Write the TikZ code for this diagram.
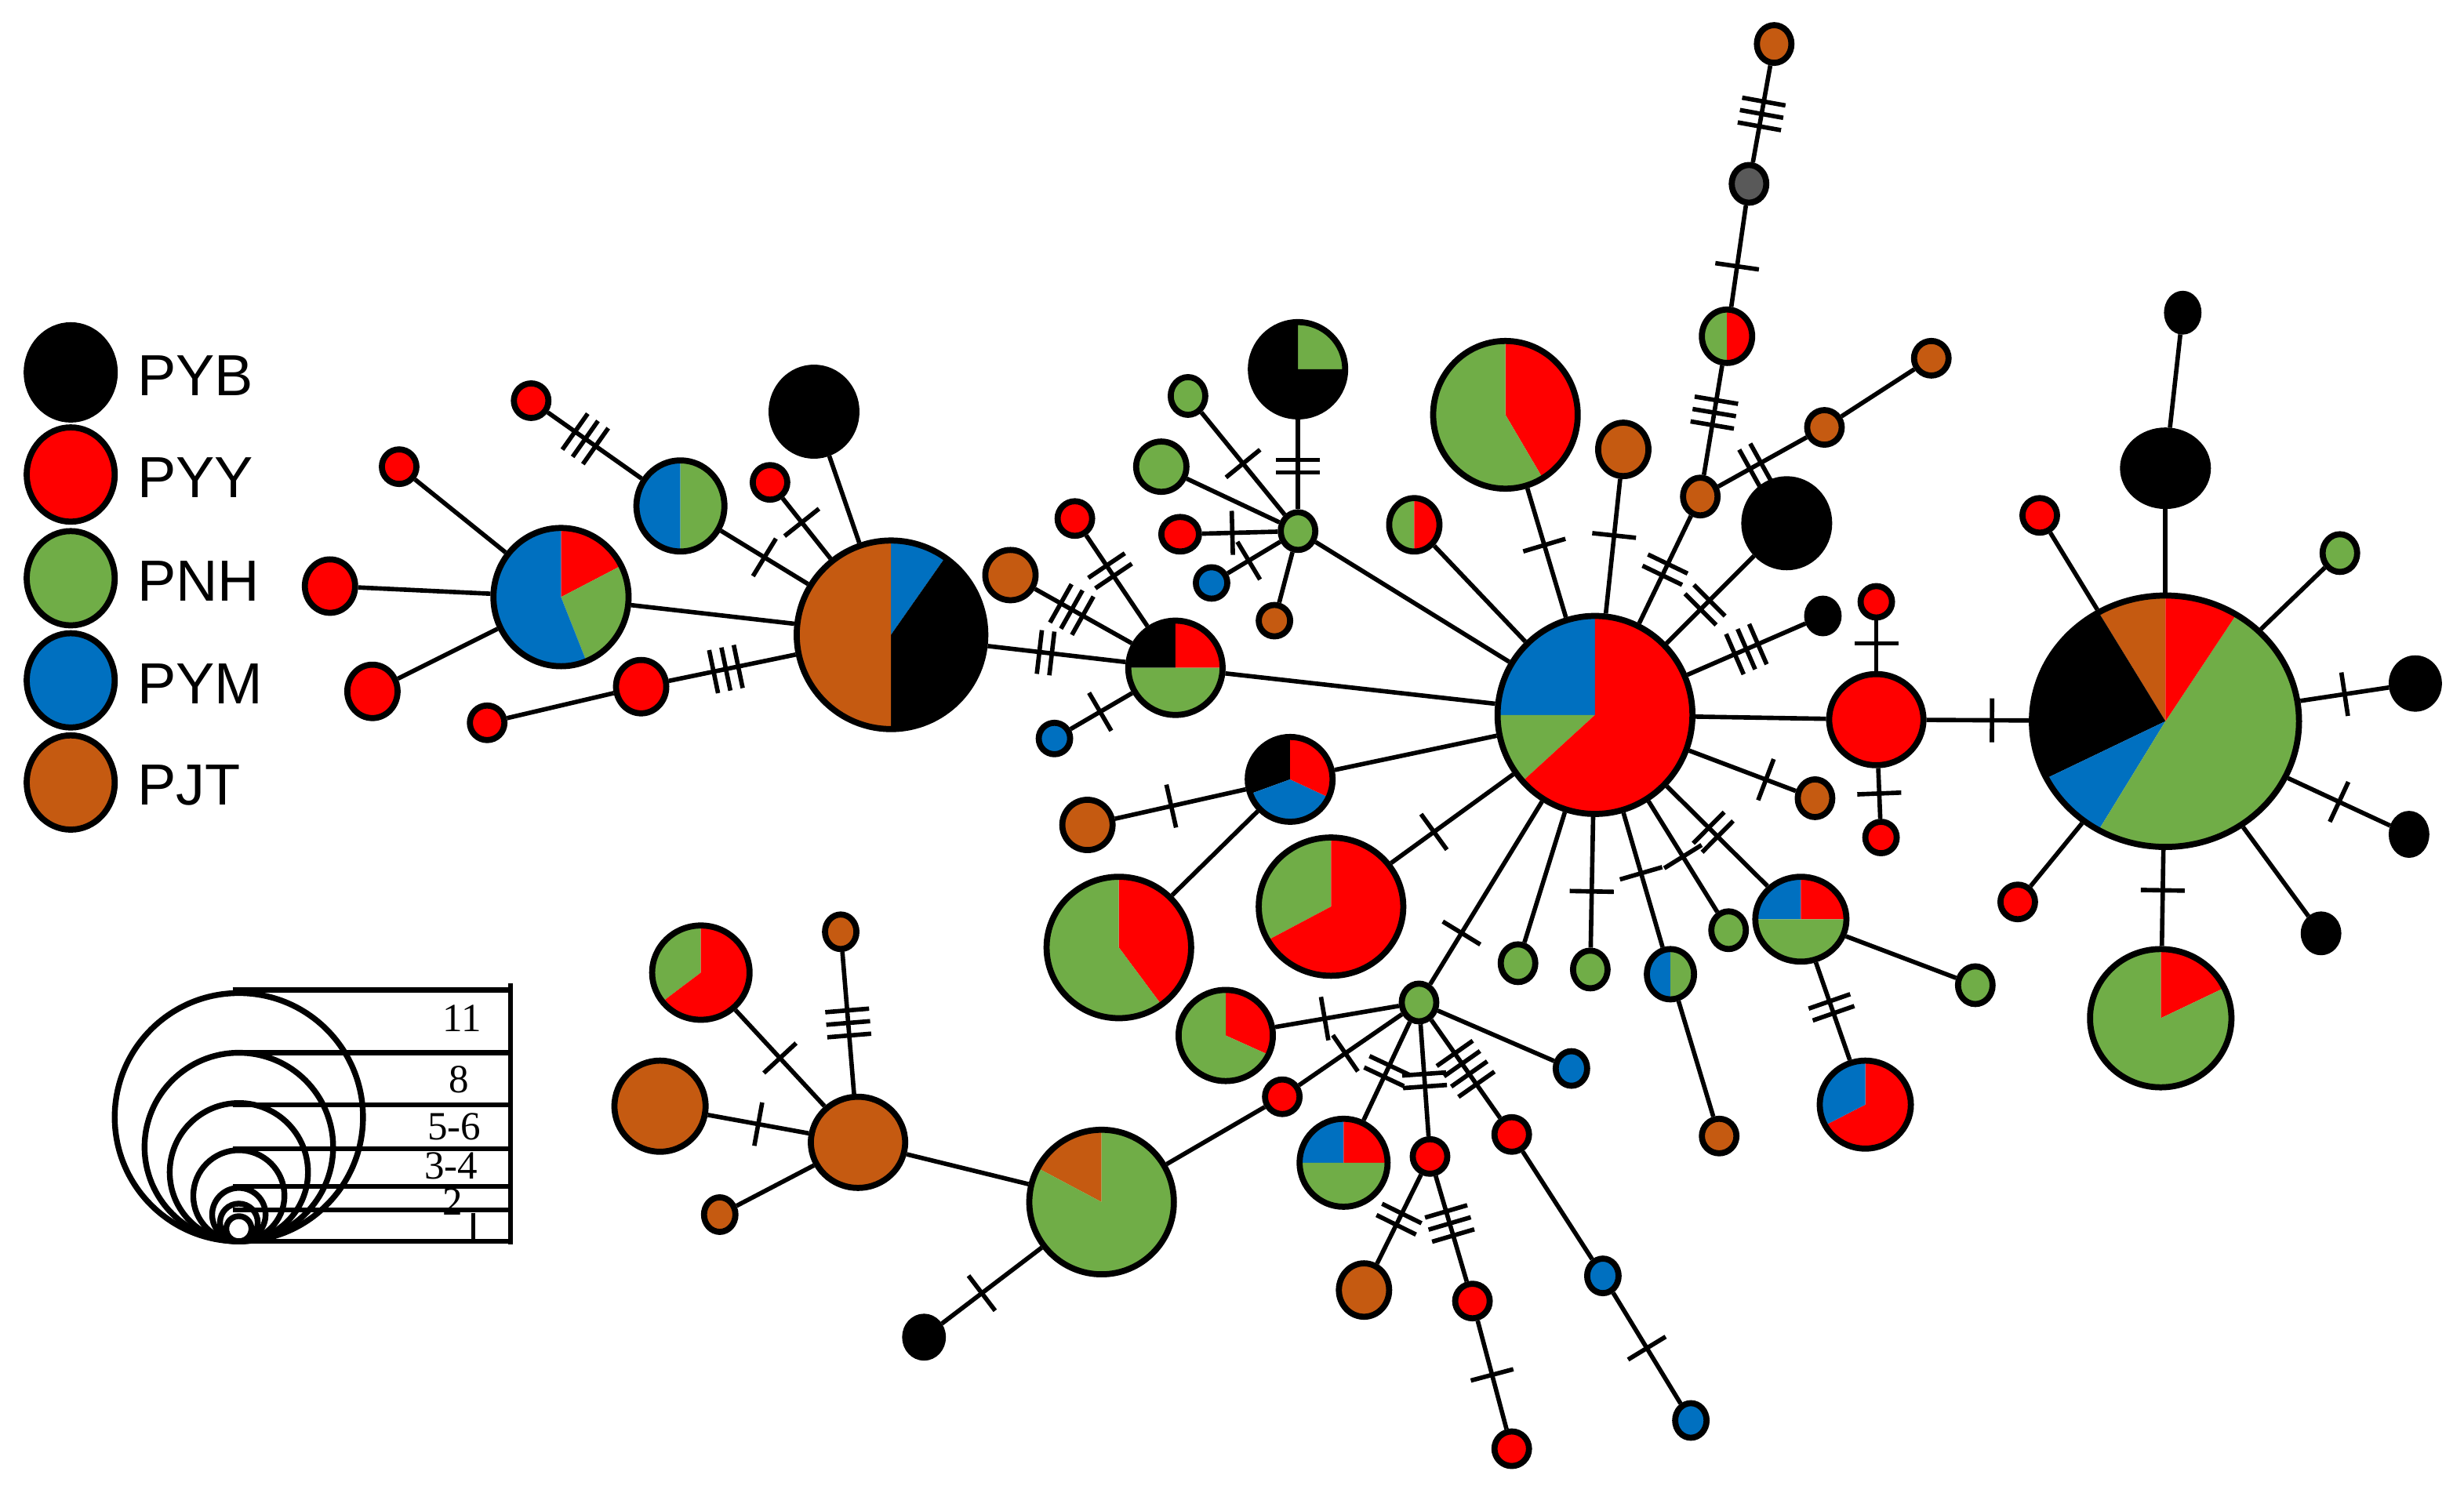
\documentclass[tikz,border=0pt]{standalone}
\usepackage{fontspec}
\setmainfont{Liberation Serif}
\newfontfamily\legfont{Liberation Sans}
\usetikzlibrary{shapes.geometric,decorations.markings}
\definecolor{cK}{HTML}{000000}
\definecolor{cR}{HTML}{FF0000}
\definecolor{cG}{HTML}{70AD47}
\definecolor{cU}{HTML}{0070C0}
\definecolor{cJ}{HTML}{C55A11}
\definecolor{cY}{HTML}{595959}
\tikzset{
  hapnode/.style={draw=black, line width=2.2pt, ellipse, inner sep=0pt, outer sep=1.1pt},
  lnk/.style={line width=1.6pt},
  mut/.style 2 args={postaction={decorate,decoration={markings,
     mark=at position #1 with {\foreach \i in {1,...,#2}{\draw[line width=1.6pt] ({(\i-(#2+1)/2)*8},-14) -- ({(\i-(#2+1)/2)*8},14);}}}}},
  legtext/.style={anchor=west, inner sep=0pt, font=\legfont\fontsize{21}{21}\selectfont},
  sclab/.style={inner sep=0pt, font=\fontsize{14.5}{14.5}\selectfont},
}
% #1 name, #2 x, #3 y, #4 rx, #5 ry, #6 slices start/end/colour (visual angles, ccw)
\newcommand\hap[6]{%
  \foreach \sa/\sb/\sc in {#6}{%
    \fill[\sc] (#2,#3) -- ++({-(\sa)}:#4 and #5) arc[start angle={-(\sa)}, end angle={-(\sb)}, x radius=#4, y radius=#5] -- cycle;}%
  \node[hapnode, minimum width={2*#4*0.02cm}, minimum height={2*#5*0.02cm}] (#1) at (#2,#3) {};}
\begin{document}
\begin{tikzpicture}[x=0.02cm,y=0.02cm,yscale=-1]
\fill[white] (0,0) rectangle (1568,950);
\useasboundingbox (0,0) rectangle (1568,950);
% ---------- legend ----------
\hap{lgK}{45}{237}{28}{30}{0/360/cK}
\hap{lgR}{45}{302}{28}{30}{0/360/cR}
\hap{lgG}{45}{368}{28}{30}{0/360/cG}
\hap{lgU}{45}{433}{28}{30}{0/360/cU}
\hap{lgJ}{45}{498}{28}{30}{0/360/cJ}
\node[legtext] (tK) at (87,239) {PYB};
\node[legtext] (tR) at (87,304) {PYY};
\node[legtext] (tG) at (87,370) {PNH};
\node[legtext] (tU) at (87,435) {PYM};
\node[legtext] (tJ) at (87,500) {PJT};
% ---------- size scale ----------
\node[sclab] (s11) at (294,648) {11};
\node[sclab] (s8) at (292,687) {8};
\node[sclab] (s56) at (289,717) {5-6};
\node[sclab] (s34) at (287,742) {3-4};
\node[sclab] (s2) at (288,765) {2};
\foreach \yy in {630,670,703,731,755,770,790}{\draw[line width=1.8pt] (148,\yy) -- (325,\yy);}
\draw[line width=1.8pt] (325,626) -- (325,792);
\draw[line width=1.5pt] (301,772) -- (301,790);
\foreach \rr in {79,60,44,29,17,12,8}{\draw[line width=2.1pt] (152,790-\rr) circle (\rr);}
% ---------- haplotypes ----------
\hap{A1}{357}{380}{43}{44}{27/90/cR, -68/27/cG, 90/292/cU}
\hap{r1}{210}{373}{16}{17}{0/360/cR}
\hap{r2}{254}{297}{11}{11}{0/360/cR}
\hap{r3}{237}{440}{16}{17}{0/360/cR}
\hap{r4}{310}{460}{11}{11}{0/360/cR}
\hap{r5}{408}{437}{16}{17}{0/360/cR}
\hap{B1}{567}{404}{60}{60}{55/90/cU, -90/55/cK, 90/270/cJ}
\hap{BG}{433}{322}{28}{29}{90/270/cU, -90/90/cG}
\hap{r6}{490}{307}{11}{11}{0/360/cR}
\hap{r7}{338}{255}{11}{11}{0/360/cR}
\hap{k1}{518}{262}{27}{28}{0/360/cK}
\hap{BRG}{748}{425}{30}{30}{90/180/cK, 0/90/cR, 180/360/cG}
\hap{o1}{643}{366}{16}{16}{0/360/cJ}
\hap{r8}{684}{330}{11}{11}{0/360/cR}
\hap{u1}{671}{470}{10}{10}{0/360/cU}
\hap{G1}{826}{338}{11}{12}{0/360/cG}
\hap{KG}{826}{235}{30}{30}{0/90/cG, 90/360/cK}
\hap{g1}{756}{252}{11}{12}{0/360/cG}
\hap{g2}{739}{297}{16}{16}{0/360/cG}
\hap{r9}{751}{340}{12}{11}{0/360/cR}
\hap{u2}{771}{371}{10}{10}{0/360/cU}
\hap{o2}{811}{395}{10}{10}{0/360/cJ}
\hap{H}{1015}{455}{62}{63}{90/180/cU, 180/222/cG, -138/90/cR}
\hap{GR1}{900}{334}{16}{17}{90/270/cG, -90/90/cR}
\hap{GR2}{958}{264}{46}{47}{-59/90/cR, 90/301/cG}
\hap{o3}{1033}{286}{16}{17}{0/360/cJ}
\hap{o4}{1082}{316}{11}{12}{0/360/cJ}
\hap{GR3}{1099}{214}{16}{17}{90/270/cG, -90/90/cR}
\hap{K1}{1113}{117}{11}{12}{0/360/cY}
\hap{o5}{1129}{28}{11}{12}{0/360/cJ}
\hap{o6}{1161}{272}{11}{11}{0/360/cJ}
\hap{o7}{1229}{228}{11}{11}{0/360/cJ}
\hap{k2}{1137}{333}{27}{28}{0/360/cK}
\hap{k3}{1160}{392}{10}{11}{0/360/cK}
\hap{r10}{1194}{458}{30}{29}{0/360/cR}
\hap{r11}{1194}{383}{10}{10}{0/360/cR}
\hap{r12}{1197}{533}{10}{10}{0/360/cR}
\hap{o8}{1155}{508}{11}{12}{0/360/cJ}
\hap{RGB1}{1146}{585}{29}{27}{90/180/cU, 0/90/cR, 180/360/cG}
\hap{g3}{1257}{627}{11}{12}{0/360/cG}
\hap{UR1}{1187}{703}{29}{28}{-152/90/cR, 90/208/cU}
\hap{g4}{1100}{592}{11}{12}{0/360/cG}
\hap{UG1}{1063}{620}{15}{16}{90/270/cU, -90/90/cG}
\hap{o9}{1094}{723}{11}{11}{0/360/cJ}
\hap{g5}{1012}{617}{11}{12}{0/360/cG}
\hap{g6}{966}{613}{11}{12}{0/360/cG}
\hap{G2}{903}{638}{11}{12}{0/360/cG}
\hap{GR4}{847}{577}{46}{44}{90/209/cG, 209/450/cR}
\hap{KRU}{821}{496}{27}{27}{90/200/cK, 200/335/cU, -25/90/cR}
\hap{o10}{692}{525}{16}{16}{0/360/cJ}
\hap{GR5}{712}{603}{46}{45}{-54/90/cR, 90/306/cG}
\hap{GR6}{780}{659}{30}{29}{-25/90/cR, 90/335/cG}
\hap{r13}{816}{698}{11}{11}{0/360/cR}
\hap{GJ}{701}{765}{46}{46}{90/152/cJ, 152/450/cG}
\hap{k4}{588}{851}{12}{13}{0/360/cK}
\hap{J2}{546}{727}{30}{29}{0/360/cJ}
\hap{o11}{420}{704}{29}{29}{0/360/cJ}
\hap{GR7}{446}{619}{31}{30}{90/218/cG, 218/450/cR}
\hap{o12}{535}{593}{10}{11}{0/360/cJ}
\hap{o13}{458}{773}{10}{11}{0/360/cJ}
\hap{RGB2}{855}{740}{28}{28}{90/180/cU, 0/90/cR, 180/360/cG}
\hap{r14}{910}{736}{11}{11}{0/360/cR}
\hap{o14}{868}{821}{16}{17}{0/360/cJ}
\hap{r15}{937}{828}{11}{11}{0/360/cR}
\hap{r16}{962}{922}{11}{11}{0/360/cR}
\hap{r17}{962}{722}{11}{11}{0/360/cR}
\hap{u3}{1020}{812}{10}{11}{0/360/cU}
\hap{u4}{1076}{904}{10}{11}{0/360/cU}
\hap{u5}{1000}{680}{10}{11}{0/360/cU}
\hap{R}{1378}{459}{85}{80}{90/120/cJ, 120/207/cK, 207/240/cU, 240/418/cG, 58/90/cR}
\hap{k5}{1378}{298}{27}{24}{0/360/cK}
\hap{k6}{1389}{199}{10}{12}{0/360/cK}
\hap{r18}{1298}{328}{11}{11}{0/360/cR}
\hap{g7}{1489}{352}{11}{12}{0/360/cG}
\hap{k7}{1537}{435}{15}{16}{0/360/cK}
\hap{k8}{1533}{531}{11}{13}{0/360/cK}
\hap{k9}{1477}{594}{11}{12}{0/360/cK}
\hap{r19}{1284}{574}{11}{11}{0/360/cR}
\hap{GR8}{1375}{648}{45}{44}{26/90/cR, 90/386/cG}
% ---------- connections ----------
\draw[lnk] (A1)--(r1);
\draw[lnk] (A1)--(r2);
\draw[lnk] (A1)--(r3);
\draw[lnk] (r4)--(r5);
\draw[lnk,mut={0.45}{3}] (r5)--(B1);
\draw[lnk] (A1)--(B1);
\draw[lnk,mut={0.6}{3}] (BG)--(r7);
\draw[lnk,mut={0.5}{1}] (BG)--(B1);
\draw[lnk,mut={0.4}{1}] (r6)--(B1);
\draw[lnk] (k1)--(B1);
\draw[lnk,mut={0.42}{2}] (B1)--(BRG);
\draw[lnk,mut={0.38}{3}] (o1)--(BRG);
\draw[lnk,mut={0.39}{2}] (r8)--(BRG);
\draw[lnk,mut={0.48}{1}] (u1)--(BRG);
\draw[lnk] (BRG)--(H);
\draw[lnk,mut={0.48}{2}] (G1)--(KG);
\draw[lnk,mut={0.5}{1}] (G1)--(g1);
\draw[lnk] (G1)--(g2);
\draw[lnk,mut={0.6}{1}] (G1)--(r9);
\draw[lnk,mut={0.6}{1}] (G1)--(u2);
\draw[lnk] (G1)--(o2);
\draw[lnk] (G1)--(H);
\draw[lnk] (H)--(GR1);
\draw[lnk,mut={0.56}{1}] (H)--(GR2);
\draw[lnk,mut={0.58}{1}] (H)--(o3);
\draw[lnk,mut={0.5}{2}] (H)--(o4);
\draw[lnk,mut={0.57}{3}] (o4)--(GR3);
\draw[lnk,mut={0.42}{2}] (o4)--(o6);
\draw[lnk] (o6)--(o7);
\draw[lnk,mut={0.4}{1}] (GR3)--(K1);
\draw[lnk,mut={0.5}{3}] (K1)--(o5);
\draw[lnk,mut={0.44}{2}] (H)--(k2);
\draw[lnk,mut={0.5}{3}] (H)--(k3);
\draw[lnk] (H)--(r10);
\draw[lnk,mut={0.55}{1}] (r10)--(r11);
\draw[lnk,mut={0.5}{1}] (r10)--(r12);
\draw[lnk,mut={0.64}{1}] (r10)--(R);
\draw[lnk,mut={0.72}{1}] (H)--(o8);
\draw[lnk,mut={0.46}{2}] (H)--(RGB1);
\draw[lnk] (RGB1)--(g3);
\draw[lnk,mut={0.46}{2}] (RGB1)--(UR1);
\draw[lnk,mut={0.5}{1}] (H)--(g4);
\draw[lnk,mut={0.45}{1}] (H)--(UG1);
\draw[lnk] (UG1)--(o9);
\draw[lnk,mut={0.57}{1}] (H)--(g5);
\draw[lnk] (H)--(g6);
\draw[lnk,mut={0.72}{1}] (H)--(G2);
\draw[lnk,mut={0.65}{1}] (H)--(GR4);
\draw[lnk] (H)--(KRU);
\draw[lnk,mut={0.57}{1}] (KRU)--(o10);
\draw[lnk] (KRU)--(GR5);
\draw[lnk,mut={0.6}{1}] (G2)--(GR6);
\draw[lnk,mut={0.55}{1}] (G2)--(r13);
\draw[lnk] (r13)--(GJ);
\draw[lnk,mut={0.6}{1}] (GJ)--(k4);
\draw[lnk] (GJ)--(J2);
\draw[lnk,mut={0.5}{1}] (J2)--(o11);
\draw[lnk,mut={0.5}{1}] (J2)--(GR7);
\draw[lnk,mut={0.5}{3}] (J2)--(o12);
\draw[lnk] (J2)--(o13);
\draw[lnk,mut={0.5}{2}] (G2)--(RGB2);
\draw[lnk,mut={0.5}{2}] (G2)--(r14);
\draw[lnk,mut={0.5}{2}] (r14)--(o14);
\draw[lnk,mut={0.45}{3}] (r14)--(r15);
\draw[lnk,mut={0.5}{1}] (r15)--(r16);
\draw[lnk,mut={0.5}{4}] (G2)--(r17);
\draw[lnk] (r17)--(u3);
\draw[lnk,mut={0.5}{1}] (u3)--(u4);
\draw[lnk] (G2)--(u5);
\draw[lnk] (R)--(k5);
\draw[lnk] (k5)--(k6);
\draw[lnk] (R)--(r18);
\draw[lnk] (R)--(g7);
\draw[lnk,mut={0.5}{1}] (R)--(k7);
\draw[lnk,mut={0.5}{1}] (R)--(k8);
\draw[lnk] (R)--(k9);
\draw[lnk] (R)--(r19);
\draw[lnk,mut={0.42}{1}] (R)--(GR8);
\end{tikzpicture}
\end{document}
